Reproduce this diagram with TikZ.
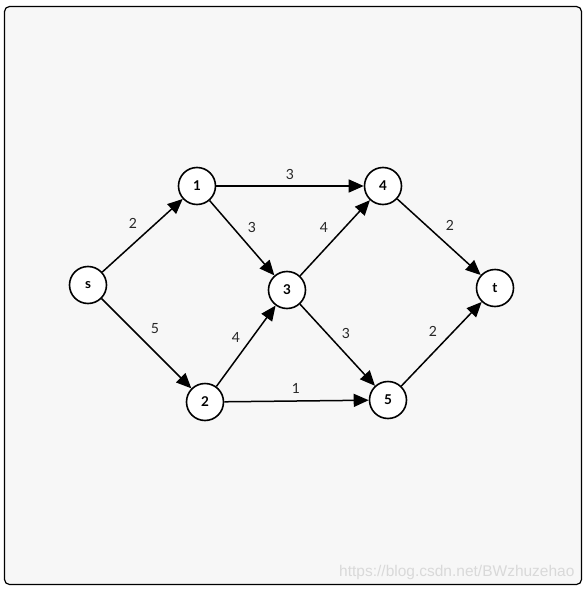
\documentclass[tikz,border=0pt]{standalone}
\usepackage{fontspec}
\setmainfont{Lato}
\newfontfamily\wmfont{Liberation Sans}
\usetikzlibrary{arrows.meta}
\begin{document}
\begin{tikzpicture}[x=1pt,y=-1pt,
  vtx/.style={circle,draw,line width=1.6pt,fill=white,minimum size=37pt,inner sep=0pt,font=\bfseries\fontsize{13.5}{13.5}\selectfont},
  edge/.style={line width=1.5pt,-{Triangle[length=15pt,width=13pt]}},
  wlab/.style={font=\fontsize{14}{14}\selectfont,text=black!85}]
\useasboundingbox (0,0) rectangle (585,589);
\fill[white] (0,0) rectangle (585,589);
\draw[line width=1.2pt,fill=black!3,rounded corners=5pt] (4.5,6.5) rectangle (581.5,584.5);
\node[vtx] (s) at (88,285) {s};
\node[vtx] (n1) at (197,186) {1};
\node[vtx] (n2) at (205,402) {2};
\node[vtx] (n3) at (287,290) {3};
\node[vtx] (n4) at (383,186) {4};
\node[vtx] (n5) at (388,400) {5};
\node[vtx] (t) at (495,288) {t};
\draw[edge] (s) -- (n1);
\draw[edge] (s) -- (n2);
\draw[edge] (n1) -- (n4);
\draw[edge] (n1) -- (n3);
\draw[edge] (n2) -- (n3);
\draw[edge] (n2) -- (n5);
\draw[edge] (n3) -- (n4);
\draw[edge] (n3) -- (n5);
\draw[edge] (n4) -- (t);
\draw[edge] (n5) -- (t);
\node[wlab] (l1) at (133,223) {2};
\node[wlab] (l2) at (155,329) {5};
\node[wlab] (l3) at (290,174) {3};
\node[wlab] (l4) at (252,227) {3};
\node[wlab] (l5) at (324,227) {4};
\node[wlab] (l6) at (450,225) {2};
\node[wlab] (l7) at (236,337) {4};
\node[wlab] (l8) at (296,388) {1};
\node[wlab] (l9) at (346,333) {3};
\node[wlab] (l10) at (433,331) {2};
\node[font=\wmfont\fontsize{15.5}{15.5}\selectfont,text=black!15,anchor=east] (wm) at (578,572) {https://blog.csdn.net/BWzhuzehao};
\end{tikzpicture}
\end{document}
